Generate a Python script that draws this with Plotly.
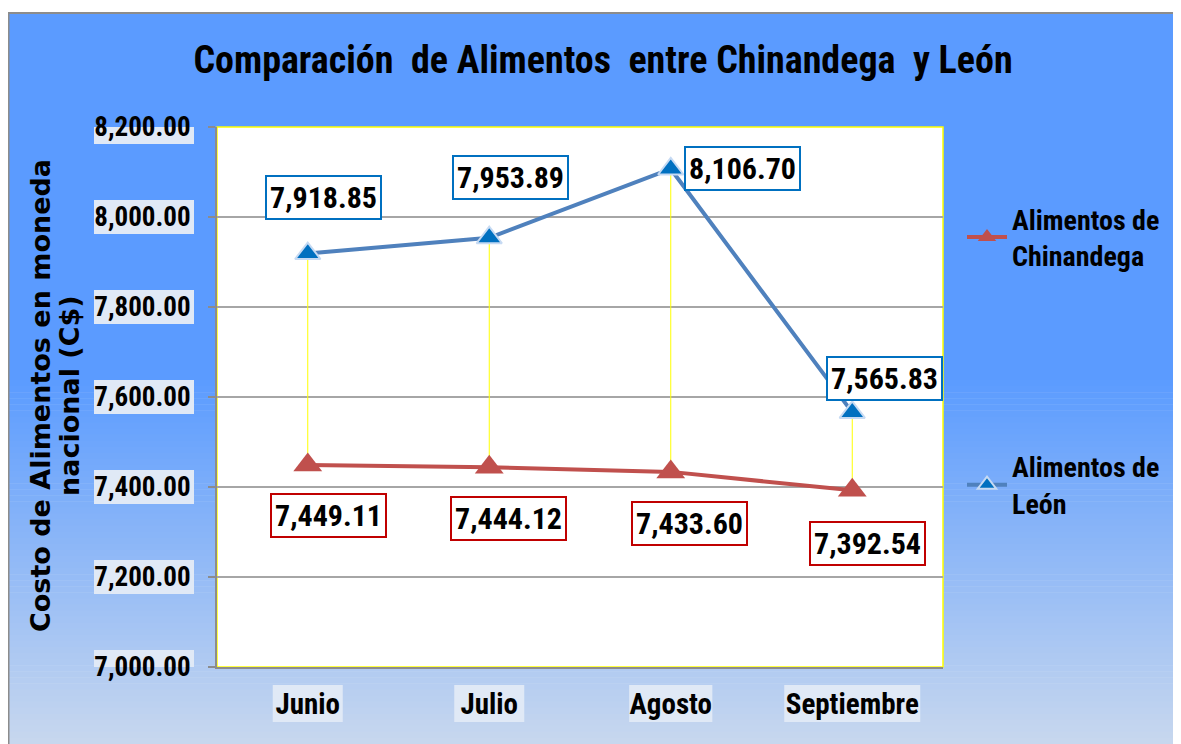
import plotly.graph_objects as go

# ---- data ----
months = ["Junio", "Julio", "Agosto", "Septiembre"]
chinandega = [7449.11, 7444.12, 7433.60, 7392.54]
leon = [7918.85, 7953.89, 8106.70, 7565.83]
y_ticks = [7000, 7200, 7400, 7600, 7800, 8000, 8200]
y_tick_labels = ["7,000.00", "7,200.00", "7,400.00", "7,600.00", "7,800.00", "8,000.00", "8,200.00"]
series_names = ["Alimentos de<br>Chinandega", "Alimentos de<br>León"]
title_text = "Comparación  de Alimentos  entre Chinandega  y León"
y_title_lines = ["Costo de Alimentos en moneda", "nacional (C$)"]

# ---- style ----
NARROW = "Roboto Condensed, Liberation Sans Narrow, Arial Narrow, sans-serif"
RED = "#c0504d"
BLUE_LINE = "#4f81bd"
BLUE_MK = "#0070c0"
LABEL_BG = "#e0e9f6"
leon_shift = [(16, 56), (21, 60), (72, 0), (32, 34)]
chin_shift = [(21, -51), (19, -51), (19, -52), (15, -53)]

OFF = 8  # page body margin
W, H = 1181 - OFF, 744 - OFF
L, R, T, B = 217 - OFF, 238, 127 - OFF, 77
pw, ph = W - L - R, H - T - B
Y0, Y1 = 7000, 8200


def px(xp):
    return (xp - OFF - L) / pw


def py(yp):
    return (H - B - (yp - OFF)) / ph


fig = go.Figure()

# drop (high-low) lines
dx, dy = [], []
for m, c, l in zip(months, chinandega, leon):
    dx += [m, m, None]
    dy += [c, l, None]
fig.add_trace(go.Scatter(x=dx, y=dy, mode="lines", line=dict(color="#ffff00", width=1),
                         showlegend=False, hoverinfo="skip"))

fig.add_trace(go.Scatter(x=months, y=chinandega, name=series_names[0], mode="lines+markers",
                         line=dict(color=RED, width=4),
                         marker=dict(symbol="triangle-up", size=25, color=RED),
                         legendgroup="a"))
fig.add_trace(go.Scatter(x=months, y=leon, name=series_names[1], mode="lines+markers",
                         line=dict(color=BLUE_LINE, width=4),
                         marker=dict(symbol="triangle-up", size=22, color=BLUE_MK,
                                     line=dict(color="#c6daf3", width=2)),
                         legendgroup="b"))

annotations = []
for i, (m, v) in enumerate(zip(months, leon)):
    annotations.append(dict(x=m, y=v, xref="x", yref="y", text=f"{v:,.2f}", showarrow=False,
                            xshift=leon_shift[i][0], yshift=leon_shift[i][1],
                            font=dict(family=NARROW, size=30, color="black", weight=700),
                            bgcolor="white", bordercolor=BLUE_MK, borderwidth=2, borderpad=3))
for i, (m, v) in enumerate(zip(months, chinandega)):
    annotations.append(dict(x=m, y=v, xref="x", yref="y", text=f"{v:,.2f}", showarrow=False,
                            xshift=chin_shift[i][0], yshift=chin_shift[i][1],
                            font=dict(family=NARROW, size=30, color="black", weight=700),
                            bgcolor="white", bordercolor="#c00000", borderwidth=2, borderpad=3))
for xp, line in zip([40, 69], y_title_lines):
    annotations.append(dict(x=px(xp), y=py(396), xref="paper", yref="paper", text=line,
                            showarrow=False, textangle=-90, xanchor="center", yanchor="middle",
                            font=dict(family="DejaVu Sans, sans-serif", size=27,
                                      color="black", weight=700)))

# background gradient
shapes = []
top = (91, 155, 255)
bot = (200, 216, 238)
y_start, y_end = 13, 744
fade_from = 380
n = 60
bands = [(y_start, fade_from, top)]
step = (y_end - fade_from) / n
for k in range(n):
    t = (k + 0.5) / n
    col = tuple(round(top[j] + (bot[j] - top[j]) * t) for j in range(3))
    bands.append((fade_from + k * step, fade_from + (k + 1) * step + 0.5, col))
for y0, y1, col in bands:
    shapes.append(dict(type="rect", xref="paper", yref="paper", layer="below",
                       x0=px(8), x1=px(1190), y0=py(y1), y1=py(y0),
                       fillcolor=f"rgb{col}", line=dict(width=0)))
shapes.append(dict(type="rect", xref="paper", yref="paper", layer="below",
                   x0=px(8.5), x1=px(1195), y0=py(760), y1=py(13),
                   fillcolor="rgba(0,0,0,0)", line=dict(color="#8c8c8c", width=2)))
shapes.append(dict(type="rect", xref="paper", yref="paper", layer="below",
                   x0=0, x1=1, y0=0, y1=1, fillcolor="white",
                   line=dict(color="#ffff00", width=1.5)))

# light backgrounds behind tick labels
half_y = 17 * (Y1 - Y0) / ph
for v in y_ticks:
    shapes.append(dict(type="rect", xref="paper", yref="y", layer="below",
                       x0=px(94), x1=px(194), y0=v - half_y, y1=v + half_y,
                       fillcolor=LABEL_BG, line=dict(width=0)))
cat_px = pw / len(months)
for i, m in enumerate(months):
    half_x = (len(m) * 13.2 + 4) / 2 / cat_px
    shapes.append(dict(type="rect", xref="x", yref="paper", layer="below",
                       x0=i - half_x, x1=i + half_x, y0=py(722), y1=py(685),
                       fillcolor=LABEL_BG, line=dict(width=0)))

fig.update_layout(
    width=W, height=H,
    margin=dict(l=L, r=R, t=T, b=B),
    paper_bgcolor="white", plot_bgcolor="white",
    title=dict(text=title_text, x=px(603), xref="paper", xanchor="center",
               y=1 - (60 - OFF) / H, yanchor="middle",
               font=dict(family=NARROW, size=38, color="black", weight=700)),
    xaxis=dict(type="category", range=[-0.5, 3.5], showgrid=False,
               showline=True, linecolor="#8c8c8c", linewidth=2,
               ticks="", tickfont=dict(family=NARROW, size=29, color="black", weight=700),
               ticklabelstandoff=10),
    yaxis=dict(range=[Y0, Y1], tickvals=y_ticks, ticktext=y_tick_labels,
               showgrid=True, gridcolor="#a6a6a6", gridwidth=1.5,
               showline=True, linecolor="#8c8c8c", linewidth=2,
               ticks="outside", ticklen=7, tickcolor="#8c8c8c", tickwidth=2,
               tickfont=dict(family=NARROW, size=27, color="black", weight=700),
               ticklabelstandoff=12, zeroline=False),
    legend=dict(x=px(962), y=py(194), xanchor="left", yanchor="top",
                bgcolor="rgba(0,0,0,0)", tracegroupgap=172, itemwidth=40,
                font=dict(family=NARROW, size=28, color="black", weight=700)),
    annotations=annotations,
    shapes=shapes,
    showlegend=True,
)

fig.write_html("out.html")
